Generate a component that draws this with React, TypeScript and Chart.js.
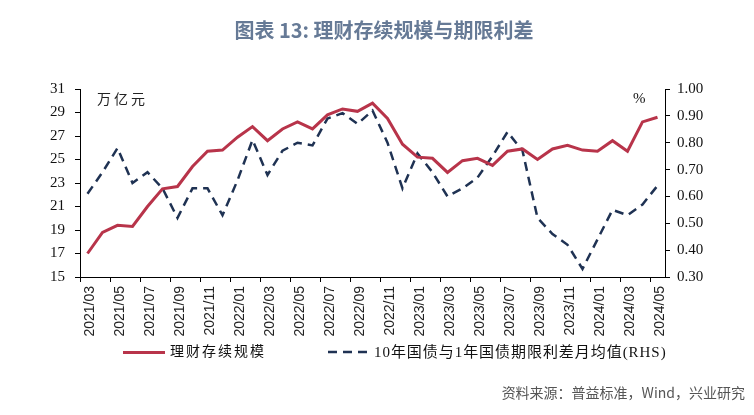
import React, { useEffect, useRef } from "react";
import { Chart, registerables } from "chart.js";

Chart.register(...registerables);

const months = [
  "2021/03", "2021/04", "2021/05", "2021/06", "2021/07", "2021/08", "2021/09", "2021/10", "2021/11", "2021/12",
  "2022/01", "2022/02", "2022/03", "2022/04", "2022/05", "2022/06", "2022/07", "2022/08", "2022/09", "2022/10",
  "2022/11", "2022/12", "2023/01", "2023/02", "2023/03", "2023/04", "2023/05", "2023/06", "2023/07", "2023/08",
  "2023/09", "2023/10", "2023/11", "2023/12", "2024/01", "2024/02", "2024/03", "2024/04", "2024/05",
];

// 理财存续规模 (万亿元)
const wealthScale = [
  17.0, 18.8, 19.4, 19.3, 21.0, 22.5, 22.7, 24.4, 25.7, 25.8,
  26.9, 27.8, 26.6, 27.6, 28.2, 27.6, 28.8, 29.3, 29.1, 29.8,
  28.5, 26.3, 25.2, 25.1, 23.9, 24.9, 25.1, 24.5, 25.7, 25.9,
  25.0, 25.9, 26.2, 25.8, 25.7, 26.6, 25.7, 28.2, 28.6,
];

// 10年国债与1年国债期限利差月均值 (%)
const termSpread = [
  0.61, 0.69, 0.78, 0.65, 0.69, 0.63, 0.52, 0.63, 0.63, 0.53,
  0.66, 0.81, 0.68, 0.77, 0.80, 0.79, 0.89, 0.91, 0.87, 0.92,
  0.80, 0.63, 0.76, 0.69, 0.60, 0.63, 0.67, 0.75, 0.84, 0.77,
  0.52, 0.46, 0.42, 0.33, 0.44, 0.55, 0.53, 0.57, 0.64,
];

const leftMin = 15;
const leftMax = 31;
const leftStep = 2;
const rightMin = 0.3;
const rightMax = 1.0;
const rightStep = 0.1;

const seriesNames = ["理财存续规模", "10年国债与1年国债期限利差月均值(RHS)"];

const RED = "#b8344a";
const NAVY = "#1f3253";

export default function App() {
  const ref = useRef<HTMLCanvasElement | null>(null);

  useEffect(() => {
    if (!ref.current) return;
    const chart = new Chart(ref.current, {
      type: "line",
      data: {
        labels: months,
        datasets: [
          {
            label: seriesNames[0],
            data: wealthScale,
            yAxisID: "y",
            borderColor: RED,
            borderWidth: 3,
            pointRadius: 0,
            tension: 0,
            fill: false,
          },
          {
            label: seriesNames[1],
            data: termSpread,
            yAxisID: "y1",
            borderColor: NAVY,
            borderWidth: 2.5,
            borderDash: [9, 6],
            pointRadius: 0,
            tension: 0,
            fill: false,
          },
        ],
      },
      options: {
        animation: false,
        responsive: false,
        devicePixelRatio: 1,
        layout: { padding: { top: 89, bottom: 78, left: 0, right: 0 } },
        plugins: { legend: { display: false }, title: { display: false }, tooltip: { enabled: false } },
        scales: {
          x: {
            type: "category",
            offset: true,
            border: { display: true, color: "#000", width: 1 },
            grid: {
              offset: true,
              drawOnChartArea: false,
              drawTicks: true,
              tickLength: 5,
              color: (ctx: any) => (ctx.index % 2 === 0 ? "#000" : "rgba(0,0,0,0)"),
            },
            ticks: {
              autoSkip: false,
              maxRotation: 90,
              minRotation: 90,
              padding: 4,
              labelOffset: 3,
              color: "#222",
              font: { family: "Liberation Sans", size: 14 },
              callback: function (this: any, _v: any, i: number) {
                return i % 2 === 0 ? months[i] : "";
              },
            },
            afterFit: (s: any) => {
              s.height = 60;
            },
          },
          y: {
            position: "left",
            min: leftMin,
            max: leftMax,
            border: { display: true, color: "#000", width: 1 },
            grid: { drawOnChartArea: false, drawTicks: true, tickLength: 5, color: "#000" },
            ticks: {
              stepSize: leftStep,
              padding: 10,
              color: "#111",
              font: { family: "Liberation Serif", size: 15 },
            },
            afterFit: (s: any) => {
              s.width = 80;
            },
          },
          y1: {
            position: "right",
            min: rightMin,
            max: rightMax,
            border: { display: true, color: "#000", width: 1 },
            grid: { drawOnChartArea: false, drawTicks: true, tickLength: 5, color: "#000" },
            ticks: {
              stepSize: rightStep,
              padding: 7,
              color: "#111",
              font: { family: "Liberation Serif", size: 15 },
              callback: (v: any) => Number(v).toFixed(2),
            },
            afterFit: (s: any) => {
              s.width = 89;
            },
          },
        },
      },
    });
    return () => chart.destroy();
  }, []);

  const mixed = '"Liberation Serif", "Noto Sans CJK SC", serif';
  return (
    <div style={{ position: "absolute", left: 0, top: 0, width: 754, height: 415, background: "#fff", overflow: "hidden" }}>
      <canvas ref={ref} width={754} height={415} style={{ position: "absolute", left: 0, top: 0, width: 754, height: 415 }} />
      <div
        style={{
          position: "absolute",
          left: 0,
          width: 768,
          top: 16,
          textAlign: "center",
          fontFamily: '"Noto Sans CJK SC", sans-serif',
          fontWeight: 700,
          fontSize: 20,
          lineHeight: "28px",
          color: "#667a96",
          whiteSpace: "nowrap",
        }}
      >
        图表 13: 理财存续规模与期限利差
      </div>
      <div style={{ position: "absolute", left: 97, top: 90, fontFamily: mixed, fontSize: 14, letterSpacing: 3, lineHeight: "20px", color: "#222" }}>
        万亿元
      </div>
      <div style={{ position: "absolute", left: 633, top: 88, fontFamily: "Liberation Serif", fontSize: 15, lineHeight: "20px", color: "#111" }}>
        %
      </div>
      <div style={{ position: "absolute", left: 123, top: 351, width: 42, height: 0, borderTop: `3px solid ${RED}` }} />
      <div style={{ position: "absolute", left: 170, top: 342, fontFamily: mixed, fontSize: 14, letterSpacing: 2, lineHeight: "20px", color: "#111", whiteSpace: "nowrap" }}>
        {seriesNames[0]}
      </div>
      <svg style={{ position: "absolute", left: 326, top: 348 }} width={44} height={8}>
        <line x1={2} y1={4} x2={42} y2={4} stroke={NAVY} strokeWidth={2.5} strokeDasharray="9 6" />
      </svg>
      <div style={{ position: "absolute", left: 374, top: 342, fontFamily: mixed, fontSize: 15, letterSpacing: 0.95, lineHeight: "20px", color: "#111", whiteSpace: "nowrap" }}>
        {seriesNames[1]}
      </div>
      <div style={{ position: "absolute", right: 9, top: 382, fontFamily: '"Noto Sans CJK SC", sans-serif', fontSize: 14, lineHeight: "20px", color: "#555", whiteSpace: "nowrap" }}>
        资料来源：普益标准，Wind，兴业研究
      </div>
    </div>
  );
}
